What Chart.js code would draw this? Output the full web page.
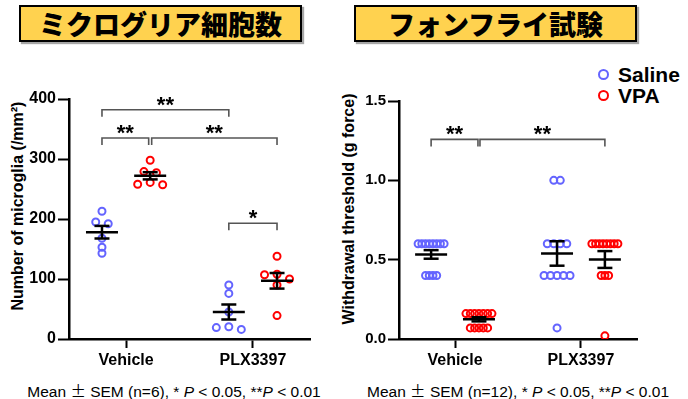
<!DOCTYPE html>
<html>
<head>
<meta charset="utf-8">
<script src="https://cdn.jsdelivr.net/npm/chart.js@4.4.1/dist/chart.umd.min.js"></script>
<style>
  html, body { margin:0; padding:0; background:#fff; }
  body { width:688px; height:399px; position:relative; overflow:hidden; font-family:"Liberation Sans", Arial, sans-serif; color:#000; }
  .title { position:absolute; top:5px; height:37px; width:283px; box-sizing:border-box; border:2.5px solid #000;
           background:#FFD24F; box-shadow:2px 2px 1px rgba(0,0,0,0.35);
           font-family:"Noto Sans CJK JP", sans-serif; font-weight:900; font-size:27px;
           display:flex; align-items:center; justify-content:center; letter-spacing:0px; }
  .cw { position:absolute; }
  .ytitle { position:absolute; font-weight:bold; font-size:16px; white-space:nowrap; transform:translate(-50%,-50%) rotate(-90deg); }
  .foot { position:absolute; top:379px; font-size:15.5px; white-space:nowrap; transform:translateX(-50%); }
  .foot .pm { font-family:"Noto Sans CJK JP", sans-serif; }
  .legend { position:absolute; left:598px; font-weight:bold; font-size:21px; white-space:nowrap; line-height:22px; }
  .legend span.dot { display:inline-block; width:7px; height:7px; border-radius:50%; border:2px solid; box-sizing:content-box; vertical-align:middle; margin-right:9px; position:relative; top:-2px; }
</style>
</head>
<body>
<div class="title" style="left:19px;">ミクログリア細胞数</div>
<div class="title" style="left:354px;">フォンフライ試験</div>

<div class="ytitle" style="left:17.5px; top:206px;">Number of microglia (/mm²)</div>
<div class="ytitle" style="left:348.5px; top:209px;">Withdrawal threshold (g force)</div>

<div class="legend" style="top:64px;"><span class="dot" style="border-color:#6464FF"></span>Saline</div>
<div class="legend" style="top:85px;"><span class="dot" style="border-color:#FF0000"></span>VPA</div>

<div class="cw" style="left:0px; top:60px; width:330px; height:310px;"><canvas id="c1" width="330" height="310"></canvas></div>
<div class="cw" style="left:330px; top:60px; width:358px; height:310px;"><canvas id="c2" width="358" height="310"></canvas></div>

<div class="foot" style="left:174px;">Mean <span class="pm">±</span> SEM (n=6), * <i>P</i> &lt; 0.05, **<i>P</i> &lt; 0.01</div>
<div class="foot" style="left:518px;">Mean <span class="pm">±</span> SEM (n=12), * <i>P</i> &lt; 0.05, **<i>P</i> &lt; 0.01</div>

<script>
// ---------------- DATA ----------------
const categories = ['Vehicle', 'PLX3397'];
const seriesNames = ['Saline', 'VPA'];

// Microglia count (/mm²), n=6
const microSalineVehicle = [213, 195, 192, 168, 153, 143];
const microVpaVehicle    = [298, 279, 277, 261, 258, 257];
const microSalinePlx     = [90, 76, 45, 20.5, 19, 16];
const microVpaPlx        = [138, 108, 107, 100, 90, 39];
const microMeanSaline = [178, 45];
const microSemSaline  = [10.5, 12.5];
const microMeanVpa    = [272, 97];
const microSemVpa     = [6, 13];
const microTicks = [0, 100, 200, 300, 400];

// von Frey withdrawal threshold (g force), n=12
const vfSalineVehicle = [0.6, 0.6, 0.6, 0.6, 0.6, 0.6, 0.6, 0.6, 0.4, 0.4, 0.4, 0.4];
const vfVpaVehicle    = [0.16, 0.16, 0.16, 0.16, 0.16, 0.16, 0.16, 0.07, 0.07, 0.07, 0.07, 0.07];
const vfSalinePlx     = [1.0, 1.0, 0.6, 0.6, 0.6, 0.6, 0.4, 0.4, 0.4, 0.4, 0.4, 0.07];
const vfVpaPlx        = [0.6, 0.6, 0.6, 0.6, 0.6, 0.6, 0.6, 0.6, 0.4, 0.4, 0.4, 0.02];
const vfMeanSaline = [0.533, 0.539];
const vfSemSaline  = [0.027, 0.077];
const vfMeanVpa    = [0.124, 0.501];
const vfSemVpa     = [0.013, 0.053];
const vfTicks = [0, 0.5, 1.0, 1.5];

// significance brackets: from [category, series] to [category, series], at value y
const microBrackets = [
  { from:[0,0], to:[1,0], y:382, label:'**', trimStart:0, trimEnd:0 },
  { from:[0,0], to:[0,1], y:335, label:'**', trimStart:0, trimEnd:1.5 },
  { from:[0,1], to:[1,1], y:335, label:'**', trimStart:1.5, trimEnd:0 },
  { from:[1,0], to:[1,1], y:193, label:'*',  trimStart:0, trimEnd:0 }
];
const vfBrackets = [
  { from:[0,0], to:[0,1], y:1.258, label:'**', trimStart:0, trimEnd:1 },
  { from:[0,1], to:[1,1], y:1.258, label:'**', trimStart:1, trimEnd:0 }
];

// ---------------- STYLE / LAYOUT ----------------
const BLUE = '#6464FF', RED = '#FF0000';
const FONT = '"Liberation Sans", Arial, sans-serif';
const GROUP_OFF = 0.19;

// beeswarm-like spreading of points that would overlap
function swarm(values, cat, side, cfg) {
  const sorted = values.slice().sort((a, b) => b - a);
  const clusters = [];
  let cur = [];
  sorted.forEach(v => {
    if (cur.length && (cur[cur.length - 1] - v) * cfg.pxPerY < cfg.thresh) cur.push(v);
    else { if (cur.length) clusters.push(cur); cur = [v]; }
  });
  if (cur.length) clusters.push(cur);
  const nmax = Math.max(...clusters.map(c => c.length));
  const s = nmax > 1 ? Math.min(cfg.sMax, cfg.W / (nmax - 1)) : 0;
  const out = [];
  clusters.forEach(c => {
    const n = c.length, slots = [];
    if (n % 2) { slots.push(0); for (let k = 1; slots.length < n; k++) { slots.push(-k); if (slots.length < n) slots.push(k); } }
    else { for (let k = 0.5; slots.length < n; k++) { slots.push(-k); slots.push(k); } }
    c.forEach((v, j) => out.push({ x: cat + side * GROUP_OFF + slots[j] * s / cfg.pxPerX, y: v }));
  });
  return out;
}

function makeStatsPlugin(groups, brackets) {
  return {
    id: 'stats',
    afterDatasetsDraw(chart) {
      const { ctx, scales: { x, y } } = chart;
      ctx.save();
      ctx.strokeStyle = '#000';
      ctx.lineWidth = 2.5;
      const ln = (x1, y1, x2, y2) => { ctx.beginPath(); ctx.moveTo(x1, y1); ctx.lineTo(x2, y2); ctx.stroke(); };
      groups.forEach(g => {
        const cx = x.getPixelForValue(g.x);
        const my = y.getPixelForValue(g.mean);
        const t = y.getPixelForValue(g.mean + g.sem);
        const b = y.getPixelForValue(g.mean - g.sem);
        ln(cx - 16, my, cx + 16, my);
        ln(cx, t, cx, b);
        ln(cx - 7.5, t, cx + 7.5, t);
        ln(cx - 7.5, b, cx + 7.5, b);
      });
      ctx.strokeStyle = '#555';
      ctx.lineWidth = 1.6;
      ctx.fillStyle = '#000';
      ctx.font = 'bold 22px ' + FONT;
      ctx.textAlign = 'center';
      ctx.textBaseline = 'alphabetic';
      brackets.forEach(br => {
        const x1 = x.getPixelForValue(br.from[0] + (br.from[1] ? 1 : -1) * GROUP_OFF) + br.trimStart;
        const x2 = x.getPixelForValue(br.to[0] + (br.to[1] ? 1 : -1) * GROUP_OFF) - br.trimEnd;
        const yy = y.getPixelForValue(br.y);
        ctx.beginPath();
        ctx.moveTo(x1, yy + 7); ctx.lineTo(x1, yy); ctx.lineTo(x2, yy); ctx.lineTo(x2, yy + 7);
        ctx.stroke();
        ctx.fillText(br.label, (x1 + x2) / 2, yy + 2);
      });
      ctx.restore();
    }
  };
}

function makeChart(id, cfg) {
  const pxPerX = cfg.plotW / (cfg.xmax - cfg.xmin);
  const pxPerY = cfg.plotH / (cfg.ymax - cfg.ymin);
  const sw = { pxPerX, pxPerY, thresh: 5, sMax: cfg.sMax, W: 26 };
  const salinePts = swarm(cfg.saline[0], 0, -1, sw).concat(swarm(cfg.saline[1], 1, -1, sw));
  const vpaPts = swarm(cfg.vpa[0], 0, 1, sw).concat(swarm(cfg.vpa[1], 1, 1, sw));
  const groups = [];
  [0, 1].forEach(c => {
    groups.push({ x: c - GROUP_OFF, mean: cfg.meanSaline[c], sem: cfg.semSaline[c] });
    groups.push({ x: c + GROUP_OFF, mean: cfg.meanVpa[c], sem: cfg.semVpa[c] });
  });
  const pointStyle = col => ({
    showLine: false, pointStyle: 'circle', pointRadius: 3.5, pointHoverRadius: 3.5,
    pointBorderWidth: 2, pointBorderColor: col, pointBackgroundColor: 'rgba(0,0,0,0)',
    borderColor: col, backgroundColor: 'rgba(0,0,0,0)'
  });
  return new Chart(document.getElementById(id), {
    type: 'scatter',
    data: {
      datasets: [
        Object.assign({ label: seriesNames[0], data: salinePts }, pointStyle(BLUE)),
        Object.assign({ label: seriesNames[1], data: vpaPts }, pointStyle(RED))
      ]
    },
    options: {
      responsive: false, animation: false, devicePixelRatio: 1,
      layout: { padding: { top: cfg.padTop, right: cfg.padRight, bottom: 0, left: 0 } },
      plugins: { legend: { display: false }, tooltip: { enabled: false } },
      scales: {
        x: {
          type: 'linear', min: cfg.xmin, max: cfg.xmax,
          afterBuildTicks: s => { s.ticks = [{ value: 0 }, { value: 1 }]; },
          afterFit: s => { s.height = 31; },
          ticks: { callback: v => categories[v], color: '#000', font: { family: FONT, size: 16, weight: 'bold' }, padding: 3, maxRotation: 0, autoSkip: false },
          grid: { drawOnChartArea: false, drawTicks: true, tickLength: 9, tickWidth: 2, color: '#000' },
          border: { display: true, color: '#000', width: 2.5 }
        },
        y: {
          min: cfg.ymin, max: cfg.ymax,
          afterBuildTicks: s => { s.ticks = cfg.ticks.map(v => ({ value: v })); },
          afterFit: s => { s.width = 69; },
          ticks: { callback: cfg.tickFmt, color: '#000', font: { family: FONT, size: cfg.tickSize, weight: 'bold' }, padding: 2 },
          grid: { drawOnChartArea: false, drawTicks: true, tickLength: 11, tickWidth: 2, color: '#000' },
          border: { display: true, color: '#000', width: 2.5 }
        }
      }
    },
    plugins: [makeStatsPlugin(groups, cfg.brackets)]
  });
}

makeChart('c1', {
  xmin: -0.45, xmax: 1.45, ymin: 0, ymax: 400, plotW: 241, plotH: 240,
  padTop: 39, padRight: 20, sMax: 12.5, tickSize: 16,
  ticks: microTicks, tickFmt: v => String(v),
  saline: [microSalineVehicle, microSalinePlx], vpa: [microVpaVehicle, microVpaPlx],
  meanSaline: microMeanSaline, semSaline: microSemSaline, meanVpa: microMeanVpa, semVpa: microSemVpa,
  brackets: microBrackets
});

makeChart('c2', {
  xmin: -0.445, xmax: 1.445, ymin: 0, ymax: 1.5, plotW: 238, plotH: 238,
  padTop: 41, padRight: 51, sMax: 6.7, tickSize: 15,
  ticks: vfTicks, tickFmt: v => Number(v).toFixed(1),
  saline: [vfSalineVehicle, vfSalinePlx], vpa: [vfVpaVehicle, vfVpaPlx],
  meanSaline: vfMeanSaline, semSaline: vfSemSaline, meanVpa: vfMeanVpa, semVpa: vfSemVpa,
  brackets: vfBrackets
});
</script>
</body>
</html>
